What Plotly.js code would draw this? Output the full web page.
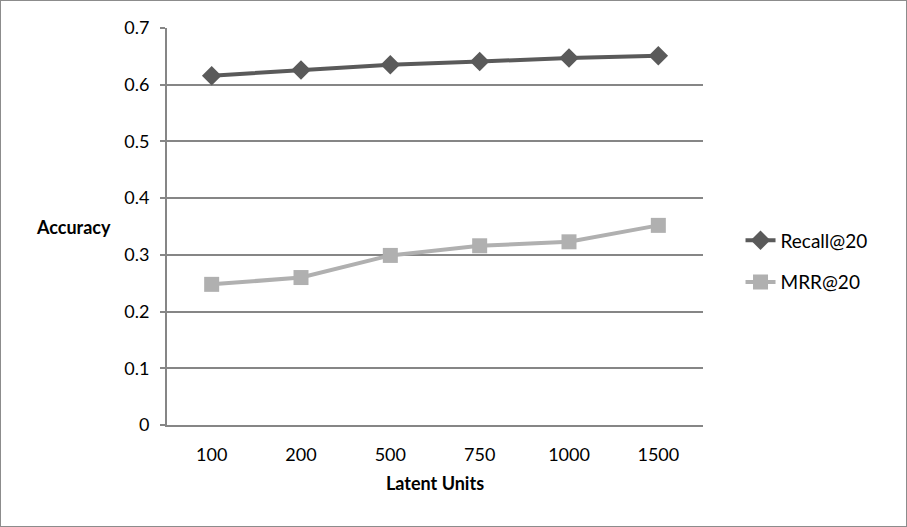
<!DOCTYPE html>
<html><head><meta charset="utf-8">
<script src="https://cdn.plot.ly/plotly-3.0.1.min.js"></script>
<style>html,body{margin:0;padding:0;background:#fff}#c{width:905px;height:525px;border:1px solid #8c8c8c}</style>
</head><body><div id="c"></div>
<script>
const categories = ["100","200","500","750","1000","1500"];
const recall = [0.616, 0.626, 0.635, 0.641, 0.647, 0.651];
const mrr = [0.248, 0.260, 0.299, 0.316, 0.323, 0.352];
const yTicks = [0,0.1,0.2,0.3,0.4,0.5,0.6,0.7];
const yTickText = ["0","0.1","0.2","0.3","0.4","0.5","0.6","0.7"];

const font = "Lato, 'Open Sans', sans-serif";
const traces = [
  {x: categories, y: recall, name: "Recall@20", type: "scatter", mode: "lines+markers",
   line: {color: "#5a5a5a", width: 4}, marker: {symbol: "diamond", size: 15, color: "#5a5a5a"}, legend: "legend"},
  {x: categories, y: mrr, name: "MRR@20", type: "scatter", mode: "lines+markers",
   line: {color: "#b0b0b0", width: 4}, marker: {symbol: "square", size: 15, color: "#b0b0b0"}, legend: "legend2"}
];
const layout = {
  width: 905, height: 525,
  margin: {l: 165.5, r: 203, t: 26.5, b: 101},
  paper_bgcolor: "#fff", plot_bgcolor: "#fff",
  font: {family: font, size: 18, color: "#000"},
  showlegend: true,
  xaxis: {type: "category", range: [-0.5, 5.5], showgrid: false, showline: true, linecolor: "#868686", linewidth: 2,
    ticks: "", tickfont: {size: 18}, ticklabelstandoff: 12,
    title: {text: "<b>Latent Units</b>", font: {size: 18}, standoff: 14}},
  yaxis: {range: [0, 0.7], tickvals: yTicks, ticktext: yTickText, showgrid: true, gridcolor: "#868686", gridwidth: 2,
    showline: true, linecolor: "#868686", linewidth: 2, ticks: "outside", ticklen: 5, tickcolor: "#868686", tickwidth: 2,
    zeroline: false, tickfont: {size: 18}, ticklabelstandoff: 7},
  legend: {x: 1.07, xanchor: "left", y: 0.465, yanchor: "middle", font: {size: 19}, bgcolor: "rgba(0,0,0,0)"},
  legend2: {x: 1.07, xanchor: "left", y: 0.36, yanchor: "middle", font: {size: 19}, bgcolor: "rgba(0,0,0,0)"},
  annotations: [{text: "<b>Accuracy</b>", xref: "paper", yref: "paper", x: -0.175, y: 0.5, xanchor: "center", yanchor: "middle",
    showarrow: false, font: {size: 18}}]
};
Plotly.newPlot("c", traces, layout, {displayModeBar: false, staticPlot: true});
</script></body></html>
